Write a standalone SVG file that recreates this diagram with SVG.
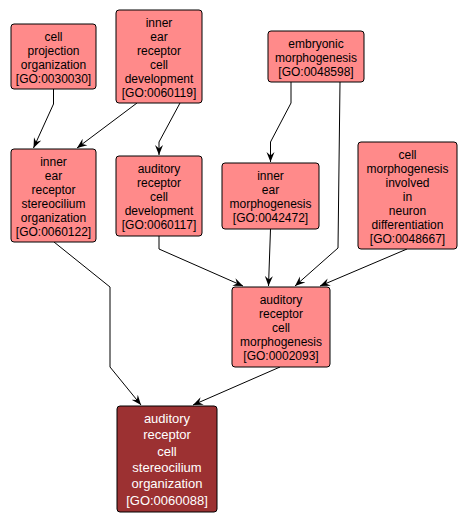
<svg xmlns="http://www.w3.org/2000/svg" width="466" height="524" viewBox="0 0 466 524">
<style>
.n rect{fill:#ff8a8a;stroke:#000;stroke-width:1}
.n text{font-family:"Liberation Sans",Arial,sans-serif;font-size:12px;fill:#000;text-anchor:middle}
#I rect{fill:#9c3132}
#I text{fill:#fff;font-size:13px}
.e path{fill:none;stroke:#000;stroke-width:1;marker-end:url(#ah)}
</style>
<defs>
<marker id="ah" markerUnits="userSpaceOnUse" markerWidth="10" markerHeight="10" refX="10" refY="5" orient="auto">
<path d="M0,1 L10,5 L0,9 L3.5,5 z" fill="#000"/>
</marker>
</defs>
<rect width="466" height="524" fill="#fff"/>
<g class="e">
<path d="M53.5,89 L53.5,104 L33.5,148"/>
<path d="M137,103 L77,148"/>
<path d="M180,103 L159,142 L159,155"/>
<path d="M291,82 L291,103 L270.5,142 L270.5,162"/>
<path d="M340,82 L338,248 L295,286"/>
<path d="M270.5,229 L268.5,286"/>
<path d="M407,249 L320,286"/>
<path d="M159,236 L159,249 L243,286"/>
<path d="M54,242 L110,287 L110,367 L141,405"/>
<path d="M280,367 L193,405"/>
</g>
<g id="A" class="n"><rect x="11" y="24" width="85" height="65" rx="3"/>
<text x="53.5" y="40.5">cell</text><text x="53.5" y="54.5">projection</text><text x="53.5" y="68.5">organization</text><text x="53.5" y="82.5">[GO:0030030]</text></g>
<g id="B" class="n"><rect x="116" y="10" width="86" height="93" rx="3"/>
<text x="159" y="26.5">inner</text><text x="159" y="40.5">ear</text><text x="159" y="54.5">receptor</text><text x="159" y="68.5">cell</text><text x="159" y="82.5">development</text><text x="159" y="96.5">[GO:0060119]</text></g>
<g id="C" class="n"><rect x="268" y="31" width="96" height="51" rx="3"/>
<text x="316" y="47.5">embryonic</text><text x="316" y="61.5">morphogenesis</text><text x="316" y="75.5">[GO:0048598]</text></g>
<g id="D" class="n"><rect x="11" y="149" width="85" height="93" rx="3"/>
<text x="53.5" y="165.5">inner</text><text x="53.5" y="179.5">ear</text><text x="53.5" y="193.5">receptor</text><text x="53.5" y="207.5">stereocilium</text><text x="53.5" y="221.5">organization</text><text x="53.5" y="235.5">[GO:0060122]</text></g>
<g id="E" class="n"><rect x="116" y="156" width="86" height="80" rx="3"/>
<text x="159" y="173">auditory</text><text x="159" y="187">receptor</text><text x="159" y="201">cell</text><text x="159" y="215">development</text><text x="159" y="229">[GO:0060117]</text></g>
<g id="F" class="n"><rect x="222" y="163" width="97" height="66" rx="3"/>
<text x="270.5" y="180">inner</text><text x="270.5" y="194">ear</text><text x="270.5" y="208">morphogenesis</text><text x="270.5" y="222">[GO:0042472]</text></g>
<g id="G" class="n"><rect x="358" y="142" width="99" height="107" rx="3"/>
<text x="407.5" y="158.5">cell</text><text x="407.5" y="172.5">morphogenesis</text><text x="407.5" y="186.5">involved</text><text x="407.5" y="200.5">in</text><text x="407.5" y="214.5">neuron</text><text x="407.5" y="228.5">differentiation</text><text x="407.5" y="242.5">[GO:0048667]</text></g>
<g id="H" class="n"><rect x="232" y="287" width="98" height="80" rx="3"/>
<text x="281" y="304">auditory</text><text x="281" y="318">receptor</text><text x="281" y="332">cell</text><text x="281" y="346">morphogenesis</text><text x="281" y="360">[GO:0002093]</text></g>
<g id="I" class="n"><rect x="117" y="406" width="100" height="106" rx="3"/>
<text x="167" y="423">auditory</text><text x="167" y="439.3">receptor</text><text x="167" y="455.6">cell</text><text x="167" y="471.9">stereocilium</text><text x="167" y="488.2">organization</text><text x="167" y="504.5">[GO:0060088]</text></g>
</svg>
